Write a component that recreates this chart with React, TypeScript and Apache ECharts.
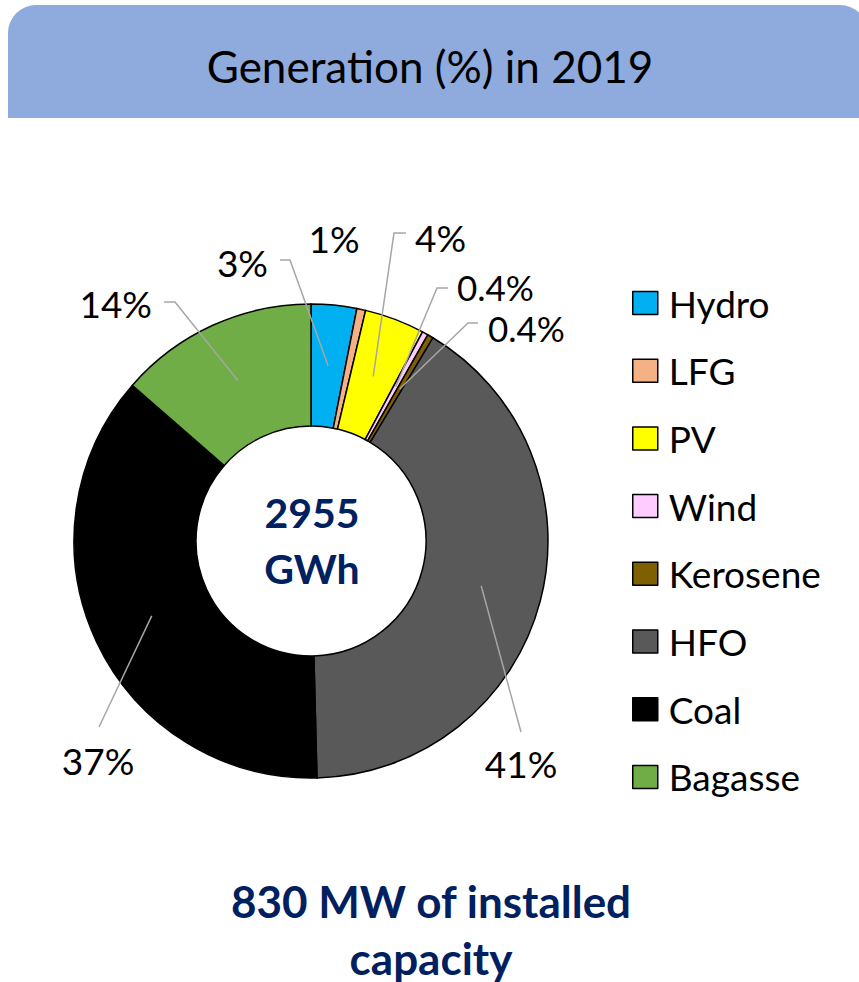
import React, { useEffect, useRef } from "react";
import * as echarts from "echarts";

const categories = ["Hydro", "LFG", "PV", "Wind", "Kerosene", "HFO", "Coal", "Bagasse"];
const values = [3.1, 0.6, 4.1, 0.4, 0.4, 41, 36.8, 13.6];
const valueLabels = ["3%", "1%", "4%", "0.4%", "0.4%", "41%", "37%", "14%"];
const colors = ["#00b0f0", "#f4b183", "#ffff00", "#ffccff", "#7f6000", "#595959", "#000000", "#70ad47"];
const titleText = "Generation (%) in 2019";
const centerText = "2955\nGWh";
const footerText = "830 MW of installed\ncapacity";

// layout (pixels)
const CX = 311;
const CY = 541;
const R_IN = 115;
const R_OUT = 237;
const R_ANCHOR = 176;

type Spot = { x: number; y: number; align: string; size: number; elbow?: number[]; end?: number[] };
const labelSpots: Spot[] = [
  { x: 268, y: 262, align: "right", size: 37, elbow: [290, 260], end: [280, 260] },
  { x: 334, y: 238, align: "center", size: 37 },
  { x: 415, y: 237, align: "left", size: 37, elbow: [394, 233], end: [406, 233] },
  { x: 457, y: 287, align: "left", size: 35, elbow: [437, 288], end: [448, 288] },
  { x: 488, y: 328, align: "left", size: 35, elbow: [468, 323], end: [478, 323] },
  { x: 521, y: 763, align: "center", size: 37, elbow: [521, 732], end: [521, 732] },
  { x: 98, y: 760, align: "center", size: 37, elbow: [99, 727], end: [99, 727] },
  { x: 152, y: 303, align: "right", size: 37, elbow: [175, 302], end: [164, 302] },
];

export default function App() {
  const ref = useRef<HTMLDivElement>(null);
  useEffect(() => {
    if (!ref.current) return;
    const chart = echarts.init(ref.current, undefined, { renderer: "svg" });
    const total = values.reduce((a, b) => a + b, 0);
    const anchors = values.map((v, i) => {
      const before = values.slice(0, i).reduce((a, b) => a + b, 0);
      const ang = ((before + v / 2) / total) * Math.PI * 2;
      return [CX + R_ANCHOR * Math.sin(ang), CY - R_ANCHOR * Math.cos(ang)];
    });
    const guideLines = labelSpots
      .map((s, i) =>
        s.elbow && s.end
          ? {
              type: "polyline",
              shape: { points: [anchors[i], s.elbow, s.end] },
              style: { stroke: "#a6a6a6", lineWidth: 1.5, fill: "none" },
              silent: true,
              z: 50,
            }
          : null
      )
      .filter(Boolean);
    chart.setOption({
      animation: false,
      backgroundColor: "#ffffff",
      graphic: [
        {
          type: "rect",
          shape: { x: 8, y: 5, width: 860, height: 113, r: [28, 28, 0, 0] },
          style: { fill: "#8faadc" },
          z: 0,
        },
        {
          type: "text",
          x: 430,
          y: 66,
          style: {
            text: titleText,
            fontFamily: "Lato",
            fontSize: 44,
            fill: "#000000",
            textAlign: "center",
            textVerticalAlign: "middle",
          },
          z: 1,
        },
        ...guideLines,
        {
          type: "text",
          x: 312,
          y: 540,
          style: {
            text: centerText,
            fontFamily: "Lato",
            fontWeight: "bold",
            fontSize: 41,
            lineHeight: 56,
            fill: "#002060",
            textAlign: "center",
            textVerticalAlign: "middle",
          },
          z: 60,
        },
        {
          type: "text",
          x: 431,
          y: 929,
          style: {
            text: footerText,
            fontFamily: "Lato",
            fontWeight: "bold",
            fontSize: 44,
            lineHeight: 57,
            fill: "#002060",
            textAlign: "center",
            textVerticalAlign: "middle",
          },
        },
      ],
      legend: {
        orient: "vertical",
        left: 632,
        top: 283,
        padding: 0,
        icon: "rect",
        itemWidth: 25,
        itemHeight: 23,
        itemGap: 27.7,
        data: categories,
        itemStyle: { borderColor: "#000000", borderWidth: 1.5 },
        textStyle: {
          fontFamily: "Lato",
          fontSize: 37,
          lineHeight: 40,
          color: "#000000",
          padding: [0, 0, 0, 6],
        },
        selectedMode: false,
      },
      series: [
        {
          type: "pie",
          center: [CX, CY],
          radius: [R_IN, R_OUT],
          startAngle: 90,
          clockwise: true,
          avoidLabelOverlap: false,
          silent: true,
          itemStyle: { borderColor: "#000000", borderWidth: 1.5 },
          label: {
            show: true,
            position: "outside",
            fontFamily: "Lato",
            fontSize: 37,
            lineHeight: 33,
            color: "#000000",
            formatter: (p: any) => valueLabels[p.dataIndex],
          },
          labelLine: { show: false },
          labelLayout: (p: any) => {
            const s = labelSpots[p.dataIndex];
            return { x: s.x, y: s.y, align: s.align, verticalAlign: "middle" };
          },
          data: categories.map((name, i) => ({
            name,
            value: values[i],
            itemStyle: { color: colors[i] },
            label: { fontSize: labelSpots[i].size },
          })),
        },
      ],
    });
    return () => chart.dispose();
  }, []);
  return (
    <div
      ref={ref}
      style={{ position: "absolute", left: 0, top: 0, width: 859, height: 982 }}
    />
  );
}
